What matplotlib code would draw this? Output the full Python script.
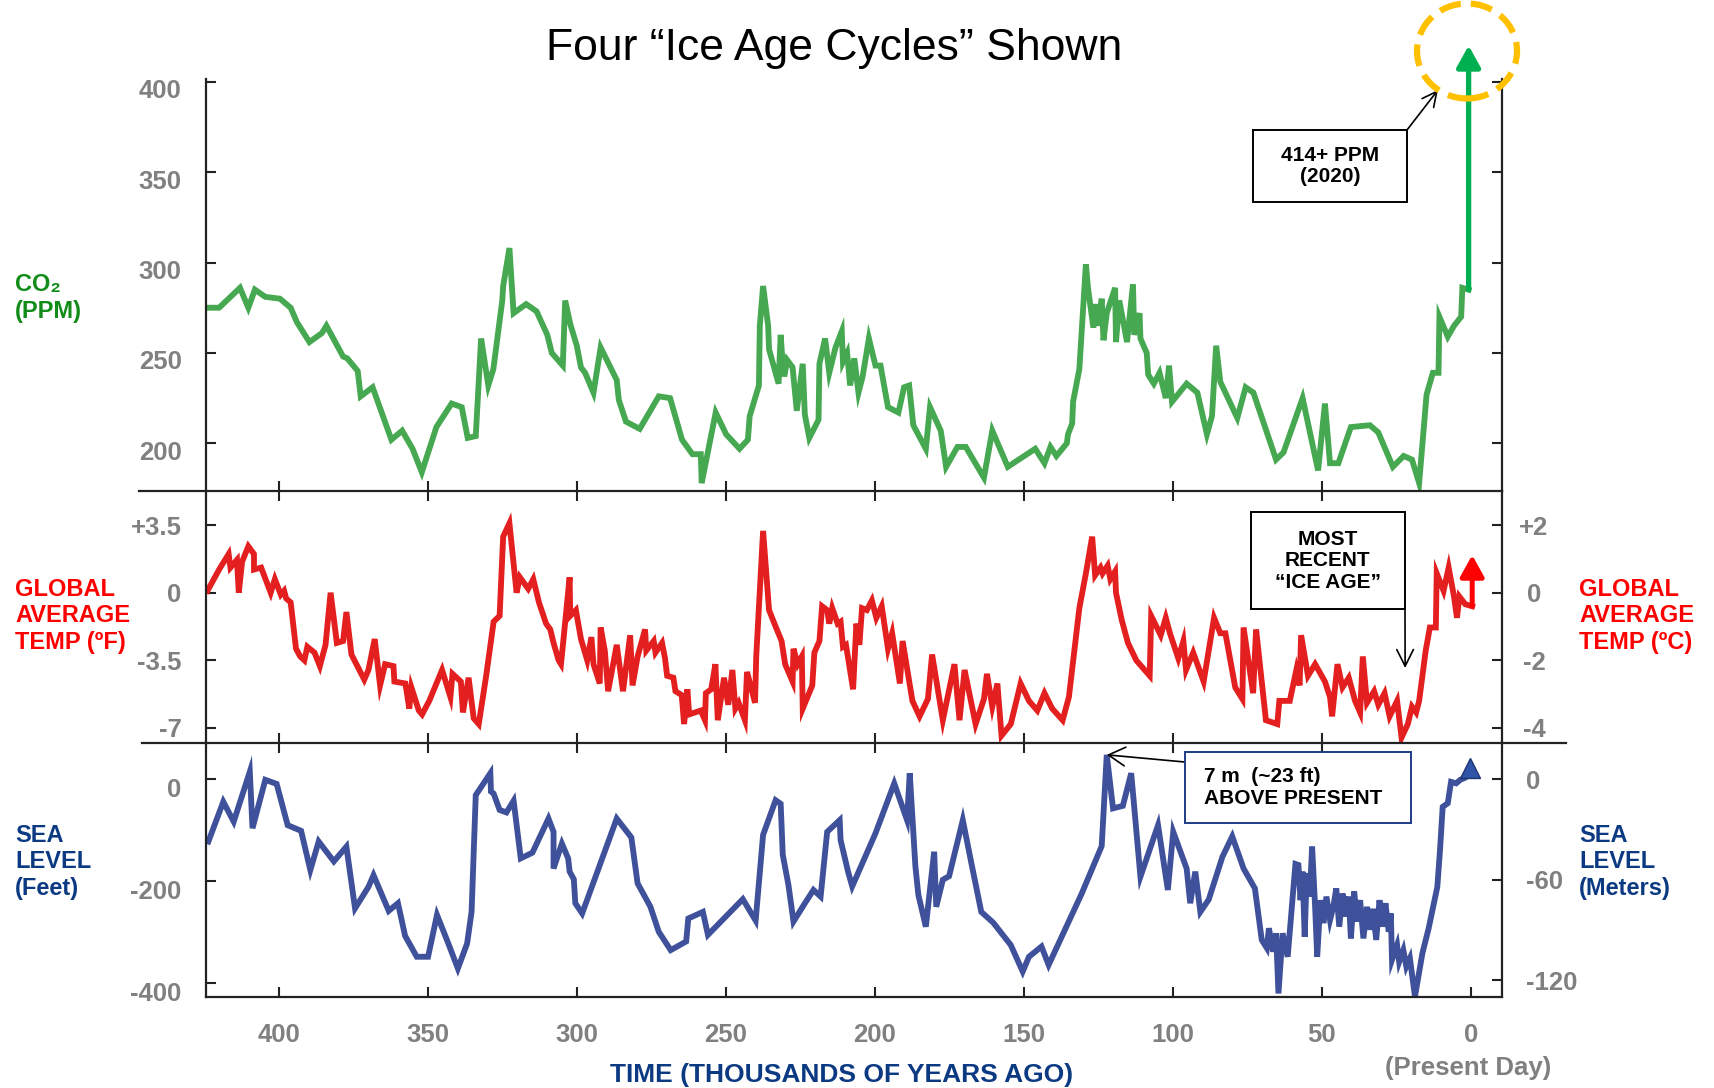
import matplotlib
matplotlib.use("Agg")
import matplotlib.pyplot as plt
import matplotlib.transforms as mtransforms
from matplotlib.patches import Ellipse, Rectangle
from matplotlib.lines import Line2D

plt.rcParams['font.family'] = ['Liberation Sans', 'DejaVu Sans']
plt.rcParams['font.weight'] = 'bold'

# time in thousands of years ago
co2_age = [423.6, 420.0, 413.0, 410.2, 408.0, 404.5, 399.6, 396.0, 393.9, 389.7, 385.5, 384.0,
           378.4, 377.0, 373.5, 372.5, 368.5, 362.2, 358.6, 355.1, 352.0, 347.1, 342.0, 338.6,
           336.6, 333.9, 332.1, 329.7, 328.0, 325.0, 324.7, 322.6, 321.2, 317.0, 313.5, 309.9,
           308.4, 304.7, 303.9, 302.2, 300.0, 298.6, 297.2, 294.4, 292.0, 286.6, 285.9, 283.5,
           278.9, 272.5, 268.7, 264.7, 261.2, 258.4, 258.1, 253.4, 249.9, 245.4, 242.6, 242.0,
           238.9, 238.6, 237.5, 235.8, 235.5, 232.3, 231.6, 230.9, 230.4, 229.4, 227.6, 226.2,
           224.2, 223.5, 222.0, 218.9, 218.6, 216.7, 215.3, 213.2, 211.1, 210.7, 209.3, 208.3,
           206.9, 205.5, 204.1, 202.0, 199.8, 198.1, 195.6, 192.1, 190.2, 188.5, 187.1, 182.9,
           181.5, 177.9, 176.1, 172.3, 169.5, 163.4, 160.6, 155.4, 146.2, 143.1, 141.1, 139.1,
           135.6, 135.2, 133.8, 133.5, 131.4, 129.2, 128.5, 126.7, 125.7, 125.0, 123.9, 123.3,
           122.2, 119.4, 119.1, 118.0, 115.4, 113.4, 113.0, 111.2, 110.9, 108.8, 108.3, 106.4,
           104.5, 102.4, 101.3, 100.3, 95.4, 91.8, 88.6, 86.9, 85.5, 84.1, 78.4, 75.6, 73.0,
           65.4, 62.9, 56.5, 51.3, 49.0, 47.3, 44.5, 40.3, 33.9, 31.1, 26.2, 22.6, 19.8, 17.4,
           14.9, 12.8, 10.9, 10.6, 7.8, 5.7, 3.3, 2.9, 0.8]
co2_ppm = [275, 275, 286, 275, 285, 281, 280, 275, 267, 256, 261, 265,
           248, 247, 240, 226, 231, 202, 207, 197, 184, 209, 222, 220,
           203, 204, 258, 232, 241, 279, 287, 308, 272, 277, 273, 260,
           250, 243, 279, 266, 254, 242, 239, 228, 253, 235, 224, 212,
           208, 226, 225, 202, 194, 194, 178, 217, 205, 197, 202, 215,
           232, 265, 287, 265, 252, 233, 260, 243, 237, 246, 242, 218,
           244, 216, 203, 213, 244, 258, 239, 253, 262, 245, 250, 232,
           247, 228, 237, 258, 243, 243, 220, 217, 231, 232, 210, 197,
           220, 207, 187, 198, 198, 181, 207, 187, 197, 189, 198, 193,
           200, 205, 211, 223, 241, 299, 286, 264, 277, 265, 280, 257,
           272, 286, 256, 279, 256, 288, 260, 272, 258, 250, 238, 233,
           239, 225, 243, 223, 233, 228, 205, 215, 254, 234, 214, 231, 228,
           191, 195, 225, 185, 222, 189, 189, 209, 210, 206, 187, 193, 191, 178,
           227, 239, 239, 270, 259, 265, 270, 286, 285]
co2_now = 420

temp_age = [423.9, 420.0, 416.8, 416.2, 414.0, 413.4, 412.3, 410.2, 408.3, 408.3, 405.9, 402.7,
            401.3, 399.3, 398.2, 397.5, 396.0, 394.2, 392.8, 391.4, 390.4, 388.0, 386.2, 384.3,
            382.6, 380.5, 378.4, 377.3, 375.6, 371.3, 369.9, 367.8, 366.0, 364.3, 361.5, 361.2,
            357.5, 356.2, 355.5, 353.0, 351.9, 349.5, 345.2, 342.4, 341.7, 338.9, 338.2, 336.3,
            334.6, 332.9, 330.4, 327.9, 325.9, 324.7, 322.6, 320.2, 319.1, 316.3, 314.6, 312.7,
            310.3, 308.9, 307.8, 306.1, 305.3, 302.4, 302.2, 300.3, 298.6, 296.5, 295.1, 294.4,
            292.3, 292.0, 290.6, 289.5, 286.6, 284.5, 282.1, 281.3, 279.6, 277.1, 276.7, 274.2,
            273.6, 271.4, 270.4, 269.7, 267.6, 266.9, 264.8, 264.0, 262.9, 262.3, 258.4, 257.0,
            256.7, 254.9, 253.5, 252.7, 250.6, 249.2, 247.8, 246.8, 245.7, 243.6, 242.9, 240.2,
            239.8, 237.5, 235.5, 233.7, 231.3, 230.1, 227.6, 227.3, 225.9, 224.5, 224.2, 221.0,
            220.3, 218.6, 217.7, 216.0, 215.3, 214.3, 212.5, 211.5, 210.7, 209.7, 207.3, 206.2,
            205.2, 204.3, 202.7, 201.0, 199.5, 197.7, 195.6, 194.2, 191.6, 190.7, 187.4, 185.0,
            182.2, 180.8, 177.2, 173.3, 171.6, 169.9, 166.2, 163.4, 162.4, 160.6, 158.9, 157.5,
            154.4, 151.1, 148.3, 145.5, 143.1, 140.5, 137.0, 134.9, 131.4, 129.2, 127.1, 126.1,
            124.3, 123.6, 121.9, 121.0, 119.4, 119.1, 117.2, 115.1, 112.3, 107.8, 107.3, 104.1,
            102.4, 101.0, 98.2, 96.5, 95.6, 93.2, 89.7, 86.2, 84.1, 82.4, 79.1, 76.7, 76.3, 73.1,
            72.1, 68.8, 65.0, 64.3, 60.8, 58.6, 57.5, 57.0, 54.7, 52.3, 49.0, 47.3, 46.6, 44.8,
            43.1, 41.0, 38.9, 37.2, 36.3, 34.9, 32.5, 31.1, 29.0, 27.3, 24.8, 23.3, 21.2, 19.8,
            18.4, 17.4, 15.2, 13.8, 11.8, 11.5, 9.2, 7.5, 5.7, 4.7, 3.9, 1.9, -0.4]
temp_f = [0.1, 1.2, 2.0, 1.3, 1.7, 0.0, 1.6, 2.4, 2.0, 1.2, 1.3, 0.0,
          0.7, -0.1, 0.1, -0.3, -0.5, -2.9, -3.3, -3.5, -2.8, -3.1, -3.8, -2.7,
          0.0, -2.6, -2.5, -1.0, -3.2, -4.5, -4.0, -2.4, -4.8, -3.7, -3.8, -4.6,
          -4.7, -6.0, -4.9, -6.1, -6.3, -5.6, -4.0, -5.4, -4.2, -4.6, -6.2, -4.4,
          -6.5, -6.8, -4.3, -1.5, -1.2, 2.9, 3.6, 0.0, 0.8, 0.2, 0.7, -0.5,
          -1.6, -1.9, -2.6, -3.5, -3.7, 0.8, -1.2, -0.9, -2.4, -3.5, -2.3, -3.7,
          -4.7, -1.8, -3.0, -5.1, -2.7, -5.1, -2.2, -4.8, -3.3, -1.9, -3.0, -2.5,
          -3.1, -2.6, -3.4, -4.3, -4.4, -5.1, -5.3, -6.8, -5.0, -6.3, -6.1, -6.6,
          -5.2, -5.0, -3.7, -6.6, -4.4, -5.8, -4.0, -6.0, -5.7, -6.6, -4.1, -5.7,
          -3.3, 3.2, -0.9, -1.6, -2.5, -3.7, -4.6, -2.9, -3.7, -3.3, -6.0, -4.8,
          -3.1, -2.5, -0.7, -0.9, -1.6, -0.8, -1.6, -1.5, -2.8, -2.7, -5.0, -1.6,
          -2.7, -0.8, -0.9, -0.4, -1.3, -0.7, -2.9, -2.1, -4.7, -2.5, -5.6, -6.4,
          -5.5, -3.2, -6.6, -3.7, -6.6, -4.0, -6.8, -5.5, -4.2, -5.9, -4.7, -7.4,
          -6.8, -4.7, -5.6, -6.1, -5.2, -6.0, -6.6, -5.4, -0.8, 1.0, 2.9, 0.9,
          1.3, 1.0, 1.4, 0.7, 1.1, 0.0, -1.4, -2.6, -3.5, -4.3, -1.2, -2.2,
          -1.3, -2.1, -3.4, -2.5, -4.0, -3.1, -4.6, -1.3, -2.1, -2.1, -4.9, -5.5, -1.8, -5.2,
          -1.9, -6.6, -6.8, -5.6, -5.6, -4.0, -4.8, -2.2, -4.3, -3.7, -4.6, -5.4, -6.4, -3.7,
          -4.9, -4.4, -5.6, -6.2, -3.3, -5.7, -5.1, -5.8, -5.2, -6.4, -5.6, -7.5, -6.8, -5.9,
          -6.2, -5.6, -3.0, -1.8, -1.8, 1.0, 0.1, 1.3, -0.2, -1.3, -0.2, -0.6, -0.7]
temp_now = 1.95

sea_age = [423.6, 418.6, 415.1, 409.7, 408.8, 404.5, 400.7, 397.0, 392.5, 389.4, 386.6, 381.5,
           377.3, 374.4, 369.9, 368.2, 363.1, 360.0, 357.6, 353.7, 349.9, 346.9, 343.1, 339.9,
           336.8, 335.3, 333.9, 329.0, 328.8, 327.9, 325.9, 323.6, 321.2, 318.8, 314.9, 309.5,
           307.8, 307.8, 305.0, 302.9, 302.4, 301.0, 300.5, 298.2, 286.6, 281.7, 279.6, 275.3,
           272.5, 268.5, 263.3, 262.6, 257.7, 256.0, 244.3, 240.0, 237.5, 233.3, 231.6, 230.9,
           229.0, 227.3, 223.8, 220.6, 218.2, 216.0, 211.8, 211.5, 209.0, 207.6, 199.8, 193.5,
           189.2, 188.3, 186.4, 185.4, 182.9, 180.1, 179.4, 177.2, 175.1, 170.5, 167.6, 164.3,
           160.3, 154.4, 150.4, 148.3, 144.1, 141.7, 130.6, 123.9, 122.2, 120.1, 116.8, 114.0,
           110.9, 105.0, 101.7, 99.9, 95.4, 94.2, 92.5, 90.8, 88.0, 83.4, 80.1, 76.3, 72.5,
           70.2, 68.5, 67.8, 66.4, 65.4, 64.6, 63.2, 61.5, 60.3, 58.9, 57.9, 57.2, 56.5, 55.8,
           55.1, 54.1, 53.3, 52.3, 51.6, 50.5, 49.5, 48.5, 47.3, 46.2, 45.2, 44.2, 43.1, 42.0,
           41.0, 40.3, 39.2, 38.2, 37.2, 36.1, 34.9, 33.9, 32.9, 31.8, 30.7, 29.7, 28.7, 27.6,
           26.9, 26.5, 24.8, 24.1, 22.7, 21.7, 20.5, 18.8, 16.3, 14.2, 11.3, 10.4, 9.5, 7.8,
           6.7, 5.0, 3.6, 2.4]
sea_ft = [-122, -44, -83, 15, -96, -1, -9, -90, -101, -178, -122, -161,
          -132, -253, -211, -188, -258, -243, -307, -348, -348, -266, -322, -371,
          -322, -260, -31, 12, -24, -28, -60, -65, -42, -155, -144, -77,
          -103, -175, -126, -155, -181, -196, -243, -263, -77, -114, -204, -250,
          -299, -335, -318, -273, -260, -305, -235, -277, -109, -41, -48, -148,
          -207, -279, -246, -217, -230, -103, -80, -119, -181, -210, -106, -8,
          -80, 12, -171, -227, -289, -142, -250, -197, -190, -80, -165, -260,
          -281, -325, -377, -348, -328, -364, -224, -131, 48, -57, -52, 12,
          -191, -90, -217, -103, -175, -243, -181, -260, -236, -152, -112, -175, -214,
          -315, -331, -292, -338, -302, -420, -302, -348, -263, -166, -168, -237, -181, -309,
          -184, -230, -132, -250, -348, -237, -282, -230, -276, -250, -214, -289, -224, -269,
          -230, -312, -220, -279, -237, -312, -250, -295, -254, -315, -237, -289, -243, -299,
          -263, -354, -325, -358, -335, -367, -351, -426, -341, -292, -211, -139, -54, -47,
          -5, -8, -1, 2]
sea_now_age = 0.5
sea_now_ft = 22

x_ticks = [400, 350, 300, 250, 200, 150, 100, 50, 0]
co2_ticks = [200, 250, 300, 350, 400]
tempf_ticks = [3.5, 0, -3.5, -7]
tempf_labels = ['+3.5', '0', '-3.5', '-7']
tempc_ticks = [2, 0, -2, -4]
tempc_labels = ['+2', '0', '-2', '-4']
sea_ft_ticks = [0, -200, -400]
sea_m_ticks = [0, -60, -120]

GREEN = '#46a850'
RED = '#e3201f'
BLUE = '#3f519b'
GRAY = '#808080'
NAVY = '#0b3a83'
DARK = '#222222'
LW = 4.2

W, H = 1714, 1088
fig = plt.figure(figsize=(W / 100, H / 100), dpi=100)


def fx(px):
    return px / W


def fy(py):
    return 1 - py / H


def nudge_labels(axis, dy_px):
    # move tick labels down a little, as in the original
    off = mtransforms.ScaledTranslation(0, -dy_px / 100, fig.dpi_scale_trans)
    for t in axis.get_major_ticks():
        t.label1.set_transform(t.label1.get_transform() + off)


left, width = fx(206), (1502 - 206) / W
ax_co2 = fig.add_axes([left, fy(490.7), width, (490.7 - 79) / H])
ax_t = fig.add_axes([left, fy(743), width, (743 - 490.7) / H])
ax_s = fig.add_axes([left, fy(997), width, (997 - 743) / H])

for ax in (ax_co2, ax_t, ax_s):
    ax.set_facecolor('none')
    ax.set_xlim(424.4, -10.4)
    ax.spines['top'].set_visible(False)
    for s in ('left', 'right', 'bottom'):
        ax.spines[s].set_color(DARK)
        ax.spines[s].set_linewidth(1.6)
    ax.tick_params(axis='y', direction='in', length=7, width=1.5, color=DARK,
                   labelsize=18.5, labelcolor=GRAY, pad=17.5)

# x ticks on the panel boundaries cross the line
for ax in (ax_co2, ax_t):
    ax.set_xticks(x_ticks[:-1])
    ax.tick_params(axis='x', direction='inout', length=14, width=1.5, color=DARK,
                   labelbottom=False)
ax_s.set_xticks(x_ticks, [str(v) for v in x_ticks])
ax_s.tick_params(axis='x', direction='in', length=7, width=1.5, color=DARK,
                 labelsize=18.5, labelcolor=GRAY, pad=19)

# CO2 panel
ax_co2.set_ylim(173.8, 401.5)
ax_co2.set_yticks(co2_ticks, [str(v) for v in co2_ticks])
ax_co2.tick_params(axis='y', right=True, labelright=False)
nudge_labels(ax_co2.yaxis, 7)
ax_co2.plot(co2_age, co2_ppm, color=GREEN, lw=LW, solid_joinstyle='miter')
ax_co2.annotate('', xy=(co2_age[-1], co2_now), xytext=(co2_age[-1], co2_ppm[-1]),
                arrowprops=dict(arrowstyle='-|>,head_length=0.65,head_width=0.36',
                                color='#00b050', lw=3.8, mutation_scale=20,
                                shrinkA=0, shrinkB=0),
                annotation_clip=False)

# temperature panel
ax_t.set_ylim(-7.78, 5.28)
ax_t.set_yticks(tempf_ticks, tempf_labels)
ax_t.plot(temp_age, temp_f, color=RED, lw=LW, solid_joinstyle='miter')
ax_t.annotate('', xy=(temp_age[-1], temp_now), xytext=(temp_age[-1], temp_f[-1]),
              arrowprops=dict(arrowstyle='-|>,head_length=0.65,head_width=0.36',
                              color='#ff0000', lw=3.6, mutation_scale=20,
                              shrinkA=0, shrinkB=0))
ax_tc = ax_t.twinx()
for s in ax_tc.spines.values():
    s.set_visible(False)
ax_tc.set_ylim(-7.78 / 1.75, 5.28 / 1.75)
ax_tc.set_yticks(tempc_ticks, tempc_labels)
ax_tc.tick_params(axis='y', direction='in', length=7, width=1.5, color=DARK,
                  labelsize=18.5, labelcolor=GRAY, pad=23)
for lab in ax_tc.get_yticklabels():
    lab.set_ha('center')

# sea level panel
ax_s.set_ylim(-426.9, 71.2)
ax_s.set_yticks(sea_ft_ticks, [str(v) for v in sea_ft_ticks])
nudge_labels(ax_s.yaxis, 8)
ax_s.plot(sea_age, sea_ft, color=BLUE, lw=LW, solid_joinstyle='miter')
ax_s.plot(sea_now_age, sea_now_ft, marker='^', ms=15, color='#2f54a8', mec='#1d3570',
          mew=1, clip_on=False)
ax_sm = ax_s.twinx()
for s in ax_sm.spines.values():
    s.set_visible(False)
ax_sm.set_ylim(-426.9 / 3.281, 71.2 / 3.281)
ax_sm.set_yticks(sea_m_ticks, [str(v) for v in sea_m_ticks])
ax_sm.tick_params(axis='y', direction='in', length=7, width=1.5, color=DARK,
                  labelsize=18.5, labelcolor=GRAY, pad=17)

# boundary lines reaching past the frame
fig.add_artist(Line2D([fx(139), fx(206)], [fy(490.7)] * 2, transform=fig.transFigure,
                      color=DARK, lw=1.6))
fig.add_artist(Line2D([fx(142), fx(206)], [fy(743)] * 2, transform=fig.transFigure,
                      color=DARK, lw=1.6))
fig.add_artist(Line2D([fx(1502), fx(1566)], [fy(743)] * 2, transform=fig.transFigure,
                      color=DARK, lw=1.6))

# dashed circle around today's CO2
fig.add_artist(Ellipse((fx(1467), fy(51)), 100 / W, 95 / H, transform=fig.transFigure,
                       fill=False, edgecolor='#ffc000', lw=4.5, linestyle=(0, (3.5, 1.6))))

# call-out boxes
def box(x0, y0, x1, y1, ec):
    fig.add_artist(Rectangle((fx(x0), fy(y1)), (x1 - x0) / W, (y1 - y0) / H,
                             transform=fig.transFigure, facecolor='white',
                             edgecolor=ec, lw=1.4, zorder=3))


box(1253, 130, 1407, 202, 'black')
fig.text(fx(1330), fy(166), '414+ PPM\n(2020)', ha='center', va='center', fontsize=15,
         linespacing=1.15, zorder=4)
ax_co2.annotate('', xy=(11.1, 395.4), xytext=(fx(1407), fy(130)),
                textcoords='figure fraction',
                arrowprops=dict(arrowstyle='->,head_length=0.7,head_width=0.35', color='black',
                                lw=1.2, mutation_scale=15, shrinkA=0, shrinkB=0),
                annotation_clip=False)

box(1250.6, 512, 1404.8, 609, 'black')
fig.text(fx(1327.7), fy(561), 'MOST\nRECENT\n“ICE AGE”', ha='center', va='center',
         fontsize=15, linespacing=1.15, zorder=4)
ax_t.annotate('', xy=(22.1, -3.9), xytext=(fx(1405), fy(609)), textcoords='figure fraction',
              arrowprops=dict(arrowstyle='->,head_length=0.8,head_width=0.4', color='black',
                              lw=1.2, mutation_scale=15, shrinkA=0, shrinkB=0))

box(1184.6, 751.7, 1410.6, 822.7, '#1f3c88')
fig.text(fx(1203.5), fy(787.5), '7 m  (~23 ft)\nABOVE PRESENT', ha='left', va='center',
         fontsize=15, linespacing=1.2, zorder=4)
i_peak = sea_ft.index(max(sea_ft))
ax_s.annotate('', xy=(sea_age[i_peak], sea_ft[i_peak]), xytext=(fx(1184.6), fy(762)),
              textcoords='figure fraction',
              arrowprops=dict(arrowstyle='->,head_length=0.8,head_width=0.45', color='black',
                              lw=1.2, mutation_scale=15, shrinkA=0, shrinkB=0))

# side labels
fig.text(fx(15), fy(298), 'CO₂\n(PPM)', color='#118c18', fontsize=17, ha='left',
         va='center', linespacing=1.2)
fig.text(fx(15), fy(616), 'GLOBAL\nAVERAGE\nTEMP (ºF)', color='#ff0000', fontsize=17,
         ha='left', va='center', linespacing=1.2)
fig.text(fx(1579), fy(616), 'GLOBAL\nAVERAGE\nTEMP (ºC)', color='#ff0000', fontsize=17,
         ha='left', va='center', linespacing=1.2)
fig.text(fx(15), fy(862), 'SEA\nLEVEL\n(Feet)', color=NAVY, fontsize=17, ha='left',
         va='center', linespacing=1.2)
fig.text(fx(1579), fy(862), 'SEA\nLEVEL\n(Meters)', color=NAVY, fontsize=17, ha='left',
         va='center', linespacing=1.2)

fig.text(fx(842), fy(1075), 'TIME (THOUSANDS OF YEARS AGO)', color=NAVY, fontsize=19,
         ha='center', va='center')
fig.text(fx(1468), fy(1068), '(Present Day)', color=GRAY, fontsize=18.5, ha='center',
         va='center')

fig.text(fx(834), fy(60), 'Four “Ice Age Cycles” Shown', fontsize=32, fontweight='normal',
         ha='center', va='baseline')

fig.savefig('out.png', dpi=100)
